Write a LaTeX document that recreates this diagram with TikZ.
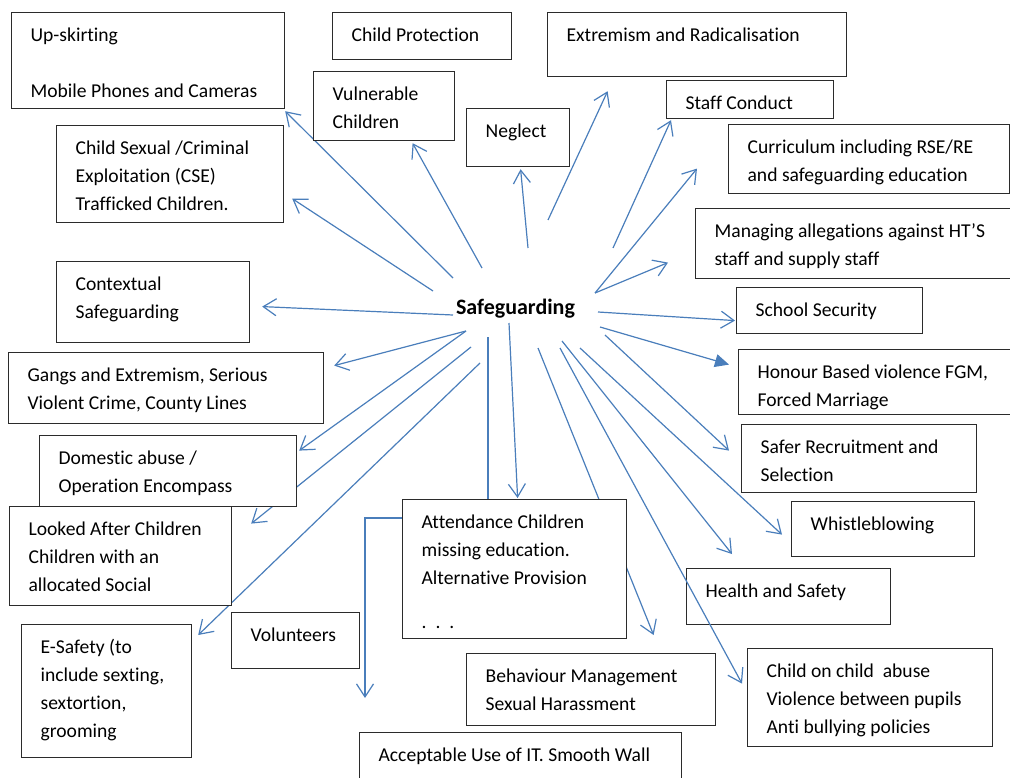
\documentclass[tikz,border=0pt]{standalone}
\usepackage{fontspec}
\setmainfont{Carlito}[Ligatures=NoCommon]
\usepackage{tikz}
\usetikzlibrary{arrows.meta,calc,backgrounds}
\definecolor{Wire}{HTML}{4A7EBB}
\definecolor{Frame}{HTML}{2B2B2B}

\begin{document}
\begin{tikzpicture}[
  x=1pt,y=-1pt,
  topic/.style 2 args={draw=Frame,line width=1.2pt,fill=white,anchor=north west,align=flush left,
    inner xsep=19pt,inner ysep=9pt,text height=20pt,
    /utils/exec={\pgfmathsetlengthmacro\boxtw{#1pt-38pt}\pgfmathsetlengthmacro\boxtd{#2pt-38pt}},
    text width=\boxtw,text depth=\boxtd,font=\fontsize{19.6}{28}\selectfont},
  hub/.style={anchor=base,inner sep=0pt,font=\fontsize{22}{26}\selectfont\bfseries},
  arr/.style={-{Straight Barb[length=13pt,width=17pt,line width=1.2pt]},line width=1.2pt,draw=Wire},
  farr/.style={-{Triangle[length=14pt,width=13pt]},line width=1.2pt,draw=Wire,fill=Wire}
]
\useasboundingbox (0,0) rectangle (1010,778);
% centre
\node[hub] (hub) at (515.5,314) {Safeguarding};
% top row
\node[topic={273}{96}] (upskirt) at (11,12) {Up-skirting\\[28pt]Mobile Phones and Cameras};
\node[topic={179}{47}] (childprot) at (332,12) {Child Protection};
\node[topic={299}{64}] (extremism) at (547,12) {Extremism and Radicalisation};
\node[topic={141}{69}] (vulnerable) at (313,71) {Vulnerable\\Children};
\node[topic={103}{58}] (neglect) at (466,108) {Neglect};
\node[topic={167}{38}] (staff) at (666,80) {Staff Conduct};
% left side
\node[topic={227}{97}] (childsex) at (56,125) {Child Sexual /Criminal\\Exploitation (CSE)\\Trafficked Children.};
\node[topic={193}{81}] (contextual) at (56,261) {Contextual\\Safeguarding};
\node[topic={315}{71}] (gangs) at (8,352) {Gangs and Extremism, Serious\\Violent Crime, County Lines};
\node[topic={257}{71}] (domestic) at (39,435) {Domestic abuse /\\Operation Encompass};
\node[topic={222}{99}] (looked) at (9,506) {Looked After Children\\Children with an\\allocated Social};
\node[topic={170}{133}] (esafety) at (21,624) {E-Safety (to\\include sexting,\\sextortion,\\grooming};
\node[topic={128}{56}] (volunteers) at (231,612) {Volunteers};
% right side
\node[topic={281}{69}] (curriculum) at (728,124) {Curriculum including RSE/RE\\and safeguarding education};
\node[topic={330}{70}] (managing) at (695,208) {Managing allegations against HT’S\\staff and supply staff};
\node[topic={186}{46}] (school) at (736,287) {School Security};
\node[topic={290}{65}] (honour) at (738,349) {Honour Based violence FGM,\\Forced Marriage};
\node[topic={235}{68}] (safer) at (741,424) {Safer Recruitment and\\Selection};
\node[topic={183}{55}] (whistle) at (791,501) {Whistleblowing};
\node[topic={204}{56}] (health) at (686,568) {Health and Safety};
\node[topic={245}{98}] (childonchild) at (747,648) {Child on child\ \ abuse\\Violence between pupils\\Anti bullying policies};
% bottom
\node[topic={224}{139}] (attendance) at (402,499) {Attendance Children\\missing education.\\Alternative Provision\\[16pt].\hspace{9pt}.\hspace{9pt}.};
\node[topic={249}{72}] (behaviour) at (466,653) {Behaviour Management\\Sexual Harassment};
\node[topic={322}{60}] (acceptable) at (359,732) {Acceptable Use of IT. Smooth Wall};
% spokes
\begin{scope}[on background layer]
\draw[arr] ($(hub.base)+(-62.5,-36)$) -- ($(upskirt.south east)+(0,2)$);
\draw[arr] ($(hub.base)+(-82.5,-23)$) -- ($(childsex.east)+(8,24.5)$);
\draw[arr] ($(hub.base)+(-33.5,-46)$) -- ($(vulnerable.south)+(28.5,2)$);
\draw[arr] ($(hub.base)+(12.5,-66)$) -- ($(neglect.south)+(2.5,2)$);
\draw[arr] ($(hub.base)+(32.5,-94)$) -- ($(extremism.south)+(-89.5,14)$);
\draw[arr] ($(hub.base)+(97.5,-66)$) -- ($(staff.south west)+(5,1)$);
\draw[arr] ($(hub.base)+(79.5,-21)$) -- ($(curriculum.west)+(-31,9.5)$);
\draw[arr] ($(hub.base)+(79.5,-21)$) -- ($(managing.west)+(-27,19)$);
\draw[arr] ($(hub.base)+(-62.5,1)$) -- ($(contextual.east)+(12,4.5)$);
\draw[arr] ($(hub.base)+(82.5,-2)$) -- ($(school.west)+(-1,10)$);
\draw[farr] ($(hub.base)+(84.5,13)$) -- ($(honour.west)+(-9,-17.5)$);
\draw[arr] ($(hub.base)+(89.5,21)$) -- ($(safer.west)+(-12,-8)$);
\draw[arr] ($(hub.base)+(64.5,34)$) -- ($(whistle.west)+(-9,5.5)$);
\draw[arr] ($(hub.base)+(46.5,27)$) -- ($(health.north west)+(46,-14)$);
\draw[arr] ($(hub.base)+(22.5,34)$) -- ($(behaviour.north)+(62.5,-18)$);
\draw[arr] ($(hub.base)+(-6.5,9)$) -- ($(attendance.north)+(3,-1)$);
\draw[arr] ($(hub.base)+(-49.5,17)$) -- ($(gangs.east)+(10,-22.5)$);
\draw[arr] ($(hub.base)+(-49.5,17)$) -- ($(domestic.east)+(2,-20.5)$);
\draw[arr] ($(hub.base)+(-44.5,33)$) -- ($(looked.east)+(19,-32.5)$);
\draw[arr] ($(hub.base)+(-35.5,49)$) -- ($(esafety.north east)+(6,11)$);
\draw[arr] ($(hub.base)+(-27.5,23)$) |- ($(attendance.north west)+(-37,19)$) -- ($(acceptable.north west)+(6,-34)$);
\end{scope}
\draw[arr] ($(hub.base)+(44.5,34)$) -- ($(childonchild.west)+(-5,-14)$);
\end{tikzpicture}
\end{document}
